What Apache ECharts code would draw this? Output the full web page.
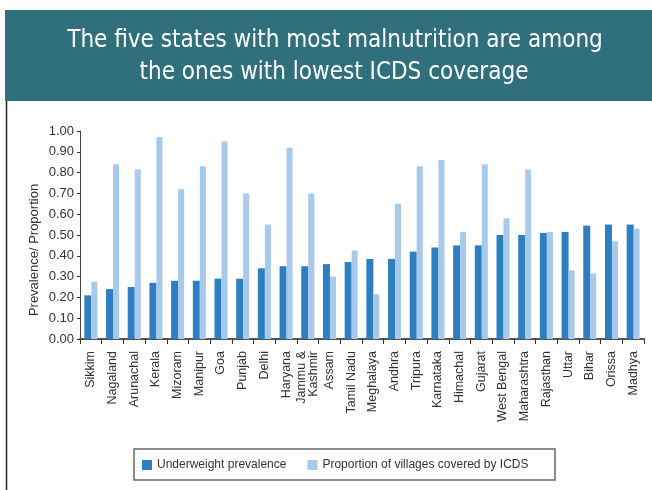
<!DOCTYPE html>
<html>
<head>
<meta charset="utf-8">
<script src="https://cdn.jsdelivr.net/npm/echarts@6/dist/echarts.min.js"></script>
<style>
html,body{margin:0;padding:0;background:#fff;}
#chart{width:652px;height:490px;}
</style>
</head>
<body>
<div id="chart"></div>
<script>
const titleLines = ['The five states with most malnutrition are among', 'the ones with lowest ICDS coverage'];
const yAxisTitle = 'Prevalence/ Proportion';
const states = ['Sikkim','Nagaland','Arunachal','Kerala','Mizoram','Manipur','Goa','Punjab','Delhi','Haryana','Jammu &\nKashmir','Assam','Tamil Nadu','Meghalaya','Andhra','Tripura','Karnataka','Himachal','Gujarat','West Bengal','Maharashtra','Rajasthan','Uttar','Bihar','Orissa','Madhya'];
const underweight = [0.21,0.24,0.25,0.27,0.28,0.28,0.29,0.29,0.34,0.35,0.35,0.36,0.37,0.385,0.385,0.42,0.44,0.45,0.45,0.50,0.50,0.51,0.515,0.545,0.55,0.55];
const icdsCoverage = [0.275,0.84,0.815,0.97,0.72,0.83,0.95,0.70,0.55,0.92,0.70,0.30,0.425,0.215,0.65,0.83,0.86,0.515,0.84,0.58,0.815,0.515,0.33,0.315,0.47,0.53];
const seriesNames = ['Underweight prevalence','Proportion of villages covered by ICDS'];

const chart = echarts.init(document.getElementById('chart'), null, {renderer:'canvas'});
const baseFont = 'Liberation Sans, Arial, sans-serif';
const titleFont = '"Liberation Sans Narrow", "DejaVu Sans Condensed", sans-serif';
chart.setOption({
  animation:false,
  backgroundColor:'#ffffff',
  textStyle:{fontFamily:baseFont},
  graphic:[
    {type:'rect', shape:{x:5,y:10,width:647,height:91}, style:{fill:'#306f7c'}, z:0},
    {type:'line', shape:{x1:6.5,y1:101,x2:6.5,y2:490}, style:{stroke:'#222',lineWidth:1.5}},
    {type:'text', x:335, y:41, style:{text:titleLines[0], fill:'#ffffff', font:'24px '+titleFont, align:'center', verticalAlign:'middle'}},
    {type:'text', x:334, y:73, style:{text:titleLines[1], fill:'#ffffff', font:'24px '+titleFont, align:'center', verticalAlign:'middle'}},
    {type:'text', x:34, y:250, rotation:Math.PI/2, style:{text:yAxisTitle, fill:'#333', font:'13px '+baseFont, align:'center', verticalAlign:'middle'}},
    {type:'rect', shape:{x:134,y:449,width:421,height:31}, style:{fill:'none',stroke:'#666',lineWidth:1.5}}
  ],
  legend:{
    left:142, top:459, itemWidth:10, itemHeight:10, itemGap:21, icon:'rect',
    padding:0,
    textStyle:{fontSize:12, color:'#333', fontFamily:baseFont},
    data:seriesNames
  },
  grid:{left:80, right:8, top:131, bottom:151, containLabel:false},
  xAxis:{
    type:'category', data:states,
    axisLine:{lineStyle:{color:'#555', width:2}},
    axisTick:{show:true, length:5, lineStyle:{color:'#333'}},
    axisLabel:{interval:0, rotate:90, margin:12, fontSize:12.5, color:'#333', padding:[8,0,0,0], lineHeight:12}
  },
  yAxis:{
    type:'value', min:0, max:1, interval:0.1,
    axisLine:{show:true, lineStyle:{color:'#444', width:1}},
    axisTick:{show:true, length:3, lineStyle:{color:'#333'}},
    splitLine:{show:false},
    axisLabel:{fontSize:13, color:'#333', margin:6, formatter:v=>v.toFixed(2)}
  },
  series:[
    {name:seriesNames[0], type:'bar', data:underweight, barWidth:7, barGap:'0%', itemStyle:{color:'#2e7fc2'}},
    {name:seriesNames[1], type:'bar', data:icdsCoverage, barWidth:6, barGap:'0%', itemStyle:{color:'#a6c9ec'}}
  ]
});
</script>
</body>
</html>
